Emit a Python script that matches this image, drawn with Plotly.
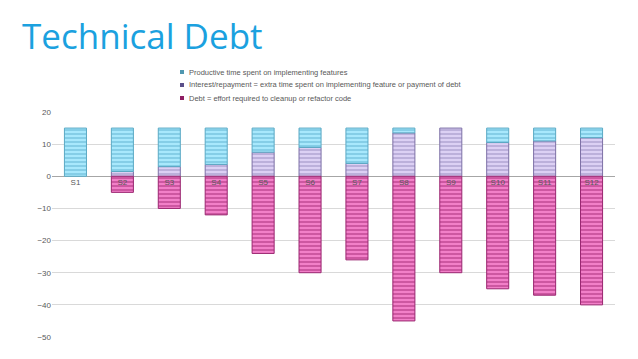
import plotly.graph_objects as go

categories = ["S1", "S2", "S3", "S4", "S5", "S6", "S7", "S8", "S9", "S10", "S11", "S12"]
productive = [15, 13.5, 12, 11.3, 7.5, 6, 11, 1.5, 0, 4.5, 4, 3]
interest = [0, 1.5, 3, 3.7, 7.5, 9, 4, 13.5, 15, 10.5, 11, 12]
debt = [0, -5, -10, -12, -24, -30, -26, -45, -30, -35, -37, -40]
y_ticks = [20, 10, 0, -10, -20, -30, -40, -50]

names = [
    "Productive time spent on implementing features",
    "Interest/repayment = extra time spent on implementing feature or payment of debt",
    "Debt = effort required to cleanup or refactor code",
]
legend_colors = ["#4f97b0", "#5a4f8a", "#8e1e63"]


def nz(vals):
    # zero-height segments are not drawn
    return [v if v != 0 else None for v in vals]


fig = go.Figure()
fig.add_trace(go.Bar(
    x=categories, y=nz(interest), name=names[1],
    marker=dict(color="#d9ccf2", line=dict(color="#7d70a6", width=1),
                pattern=dict(shape="-", fgcolor="#8d7fb8", bgcolor="#dcd0f4", size=4, solidity=0.4)),
))
fig.add_trace(go.Bar(
    x=categories, y=nz(productive), name=names[0],
    marker=dict(color="#a6e6fb", line=dict(color="#5aa9c4", width=1),
                pattern=dict(shape="-", fgcolor="#4fa8c8", bgcolor="#a8e8fc", size=4, solidity=0.4)),
))
fig.add_trace(go.Bar(
    x=categories, y=nz(debt), name=names[2],
    marker=dict(color="#f07cc6", line=dict(color="#9a2670", width=1),
                pattern=dict(shape="-", fgcolor="#a02472", bgcolor="#f27fc8", size=4, solidity=0.45)),
))

# plot-area pixel geometry helpers (paper coords)
L, R, T, B = 52, 615, 112, 337
def px(x):
    return (x - L) / (R - L)
def py(y):
    return (B - y) / (B - T)

annotations = [dict(
    text="Technical Debt", x=px(20), y=py(35), xref="paper", yref="paper",
    showarrow=False, xanchor="left", yanchor="middle",
    font=dict(family="Open Sans, Noto Sans, sans-serif", size=35, color="#1ba1df"),
)]
shapes = []
rows = [72, 85, 98]
for name, col, ry in zip(names, legend_colors, rows):
    shapes.append(dict(type="rect", xref="paper", yref="paper",
                       x0=px(180), x1=px(184), y0=py(ry + 2), y1=py(ry - 2),
                       fillcolor=col, line=dict(width=0)))
    annotations.append(dict(text=name, x=px(186.5), y=py(ry), xref="paper", yref="paper",
                            showarrow=False, xanchor="left", yanchor="middle",
                            font=dict(size=7.5, color="#595959")))

fig.update_layout(
    width=638, height=359,
    barmode="relative",
    bargap=0.53,
    plot_bgcolor="white",
    paper_bgcolor="white",
    margin=dict(l=L, r=638 - R, t=T, b=359 - B),
    font=dict(family="Liberation Sans, Arial, sans-serif", size=8, color="#595959"),
    showlegend=False,
    annotations=annotations,
    shapes=shapes,
)

fig.update_yaxes(
    range=[-50, 20], tickvals=y_ticks, showgrid=True, gridcolor="#d9d9d9", gridwidth=1,
    zeroline=True, zerolinecolor="#a6a6a6", zerolinewidth=1,
    tickfont=dict(size=8, color="#595959"), ticks="", showline=False,
)
fig.update_xaxes(
    anchor="free", position=50/70, showline=False, ticks="",
    tickfont=dict(size=8, color="#595959"), showgrid=False,
)

fig.write_html("out.html", config={"displayModeBar": False},
               post_script="document.body.style.margin='0';")
